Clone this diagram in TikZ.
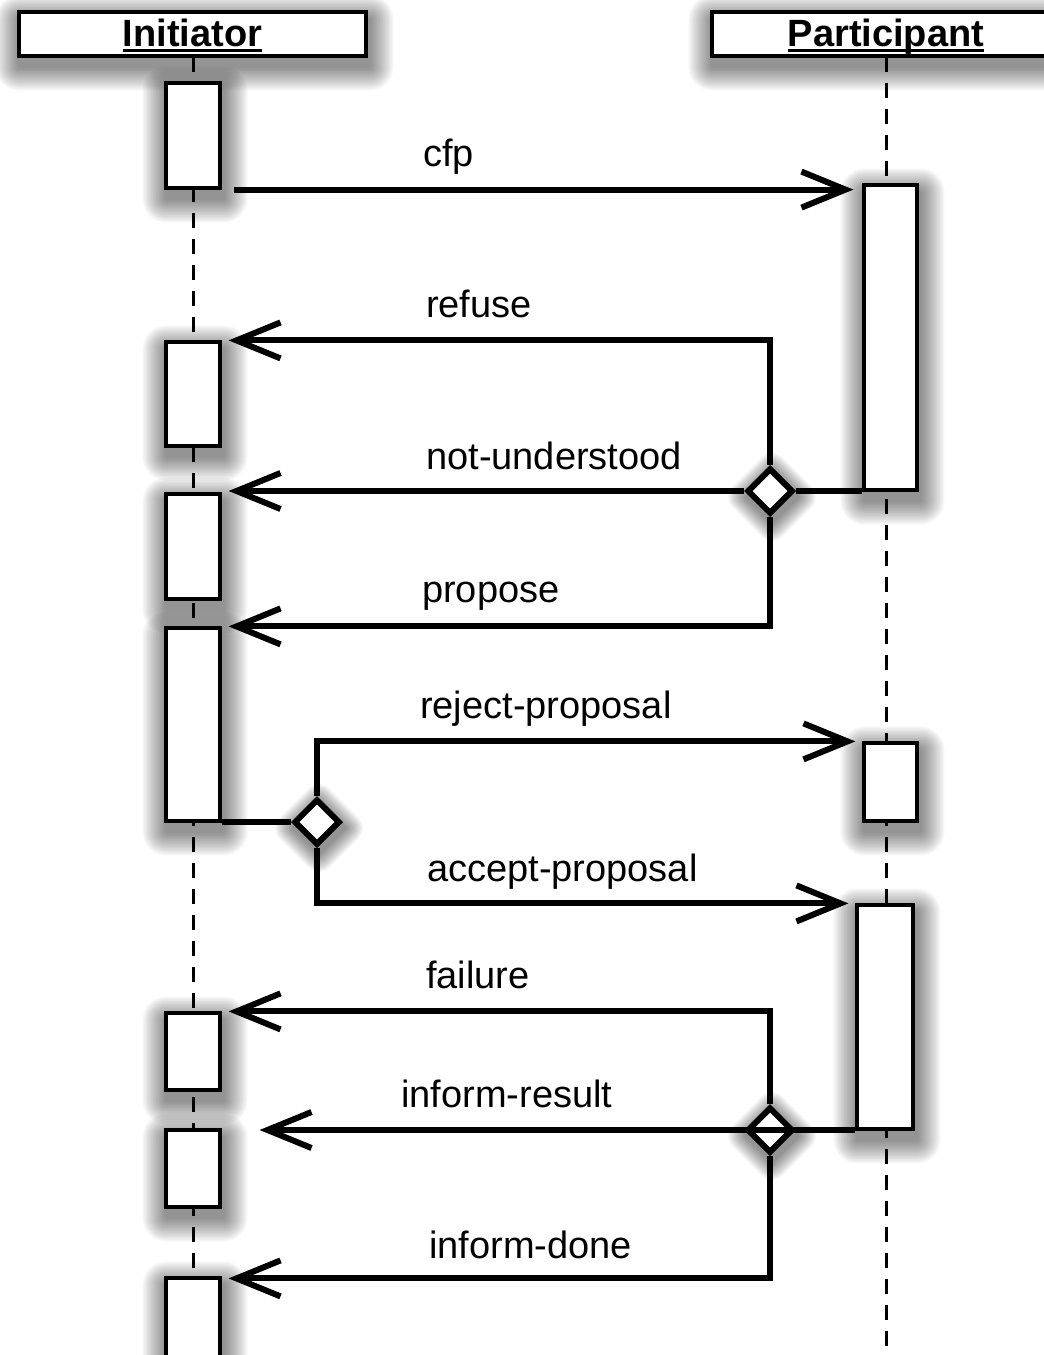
\documentclass[tikz,border=0pt]{standalone}
\usepackage{fontspec}
\setmainfont{Liberation Sans}
\usetikzlibrary{arrows.meta,shapes.geometric,calc}

\pgfdeclarelayer{shade}
\pgfsetlayers{shade,main}

% bold, underlined lifeline title with a rule at a fixed depth
\newcommand\roletitle[1]{\setbox0\hbox{\bfseries #1}\rlap{\rule[-6pt]{\wd0}{2.6pt}}\box0}

% soft drop shadow built from stacked translucent outlines
\newcommand\shadebox[1]{%
  \foreach \k in {1,...,16}{%
    \pgfmathsetmacro\rr{\k*1.5}%
    \fill[black, opacity=0.03, rounded corners=\rr pt]
      ([shift={(2-\rr,9-\rr)}]#1.north west) rectangle
      ([shift={(2+\rr,9+\rr)}]#1.south east);
  }}
\newcommand\shadediamond[1]{%
  \foreach \k in {1,...,16}{%
    \pgfmathsetmacro\rr{\k*1.5}%
    \fill[black, opacity=0.03, rounded corners=0.6*\rr pt]
      ([shift={(2,6-\rr)}]#1.north) -- ([shift={(2+\rr,6)}]#1.east) --
      ([shift={(2,6+\rr)}]#1.south) -- ([shift={(2-\rr,6)}]#1.west) -- cycle;
  }}

\tikzset{
  rolebox/.style={draw, line width=3.2pt, fill=white, inner sep=0pt,
      minimum height=44pt, text height=34pt, text depth=10pt,
      font=\fontsize{38}{40}\selectfont},
  act/.style={draw, line width=3.2pt, fill=white, inner sep=0pt,
      minimum width=54pt},
  lifeline/.style={line width=3pt, dash pattern=on 15pt off 11pt},
  msg/.style={line width=6pt, -{Straight Barb[length=44pt,width=36pt]},
      shorten >=7pt},
  link/.style={line width=6pt},
  choice/.style={diamond, draw, line width=6pt, fill=white, inner sep=0pt,
      minimum width=46pt, minimum height=46pt},
  lbl/.style={anchor=base west, inner sep=0pt, font=\fontsize{38}{40}\selectfont}
}

\begin{document}
\begin{tikzpicture}[x=1pt, y=-1pt]
  \begin{pgfonlayer}{shade}
    \fill[white] (0,0) rectangle (1044,1355);
  \end{pgfonlayer}
  \useasboundingbox (0,0) rectangle (1044,1355);

  % lifeline heads
  \node[rolebox, minimum width=347pt] (hI) at (192.5,34) {\roletitle{Initiator}};
  \node[rolebox, minimum width=348pt] (hP) at (886,34) {\roletitle{Participant}};

  % dashed lifelines
  \draw[lifeline] (193,57) -- (193,1355);
  \draw[lifeline] (886,57) -- (886,1355);

  % Initiator activations
  \node[act, minimum height=105pt] (i1) at (193,135.5) {};
  \node[act, minimum height=104pt] (i2) at (193,394) {};
  \node[act, minimum height=105pt] (i3) at (193,546.5) {};
  \node[act, minimum height=193pt] (i4) at (193,724.5) {};
  \node[act, minimum height=77pt]  (i5) at (193,1051.5) {};
  \node[act, minimum height=77pt]  (i6) at (193,1168.5) {};
  \node[act, minimum height=104pt] (i7) at (193,1330) {};

  % Participant activations
  \node[act, minimum width=53pt, minimum height=305pt] (p1) at (890.5,337.5) {};
  \node[act, minimum width=53pt, minimum height=78pt]  (p2) at (890.5,782) {};
  \node[act, minimum width=56pt, minimum height=224pt] (p3) at (885,1017) {};

  % decision points
  \node[choice] (d1) at (770,491) {};
  \node[choice] (d2) at (317,822) {};
  \node[choice] (d3) at (770,1130) {};

  % shadows under heads, activations and decision points
  \begin{pgfonlayer}{shade}
    \foreach \n in {hI,hP,i1,i2,i3,i4,i5,i6,i7,p1,p2,p3}{\shadebox{\n}}
    \foreach \n in {d1,d2,d3}{\shadediamond{\n}}
  \end{pgfonlayer}

  % cfp
  \draw[msg, shorten <=12pt, shorten >=9pt] (i1.south east) -- (i1.south east -| p1.west);
  \node[lbl] (lcfp) at (423,166) {cfp};

  % replies to the call for proposals
  \draw[link] (d1.east) -- (d1.east -| p1.west);
  \draw[msg] (d1.north) |- (i2.north east);
  \draw[msg] (d1.west) -- (d1.west -| i3.east);
  \draw[msg] (d1.south) |- (i4.north east);
  \node[lbl] (lref) at (426,317) {refuse};
  \node[lbl] (lnu) at (426,469) {not-understood};
  \node[lbl] (lprop) at (422,602) {propose};

  % answer to the proposal
  \draw[link] (d2.west) -- (d2.west -| i4.east);
  \draw[msg] (d2.north) |- (p2.north west);
  \draw[msg] (d2.south) |- (p3.north west);
  \node[lbl] (lrej) at (420,718) {reject-proposal};
  \node[lbl] (lacc) at (427,881) {accept-proposal};

  % outcome of the task
  \draw[link] (d3.east) -- (d3.east -| p3.west);
  \draw[msg] (d3.north) |- (i5.north east);
  \draw[msg, shorten >=38pt] (d3.east) -- (d3.east -| i6.east);
  \draw[msg] (d3.south) |- ([yshift=-2pt]i7.north east);
  \node[lbl] (lfail) at (426,988) {failure};
  \node[lbl] (lres) at (401,1107) {inform-result};
  \node[lbl] (ldone) at (429,1258) {inform-done};
\end{tikzpicture}
\end{document}
